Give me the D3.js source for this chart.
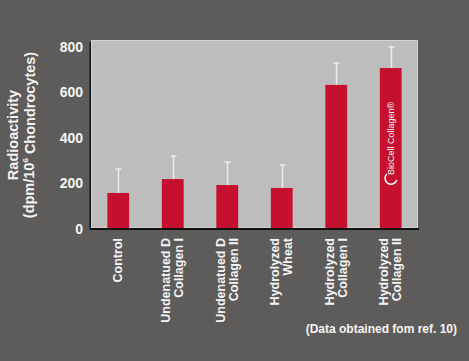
<!DOCTYPE html>
<html><head><meta charset="utf-8">
<script src="https://cdn.jsdelivr.net/npm/d3@7/dist/d3.min.js"></script>
<style>
html,body{margin:0;padding:0;background:#5e5c5b;}
svg{display:block;}
text{font-family:"Liberation Sans",Arial,sans-serif;font-weight:bold;fill:#f4f4f4;}
</style></head>
<body>
<script>
const categories = [["Control"],["Undenatued D","Collagen I"],["Undenatued D","Collagen II"],["Hydrolyzed","Wheat"],["Hydrolyzed","Collagen I"],["Hydrolyzed","Collagen II"]];
const values = [154, 215, 189, 176, 629, 703];
const errors = [105, 101, 101, 101, 96, 93];
const yTicks = [0, 200, 400, 600, 800];

const W = 469, H = 361;
const svg = d3.select("body").append("svg").attr("width", W).attr("height", H);
svg.append("rect").attr("width", W).attr("height", H).attr("fill", "#5e5c5b");

const x = d3.scaleBand().domain(d3.range(categories.length)).range([91, 418]).paddingInner(0.6).paddingOuter(0.3);
const y = d3.scaleLinear().domain([0, 800]).range([228, 46]);

// plot area with shadow lines
svg.append("line").attr("x1", 90.5).attr("x2", 90.5).attr("y1", 42).attr("y2", 229.5).attr("stroke", "#111").attr("stroke-width", 2);
svg.append("line").attr("x1", 90).attr("x2", 419).attr("y1", 229).attr("y2", 229).attr("stroke", "#111").attr("stroke-width", 2);
svg.append("rect").attr("x", 91.5).attr("y", 40.5).attr("width", 326).attr("height", 187).attr("fill", "#bdbdbd").attr("stroke", "#d2d2d2").attr("stroke-width", 1);

// error bars
const eb = svg.append("g");
values.forEach((v, i) => {
  const cx = Math.round(x(i) + x.bandwidth() / 2) + 0.5;
  eb.append("line").attr("x1", cx).attr("x2", cx).attr("y1", y(v)).attr("y2", y(v + errors[i])).attr("stroke", "#ececec").attr("stroke-width", 1.5);
  eb.append("line").attr("x1", cx - 3).attr("x2", cx + 3).attr("y1", y(v + errors[i])).attr("y2", y(v + errors[i])).attr("stroke", "#ececec").attr("stroke-width", 1.5);
});

// bars
svg.append("g").selectAll("rect").data(values).join("rect")
  .attr("x", (d, i) => x(i)).attr("width", x.bandwidth())
  .attr("y", d => y(d)).attr("height", d => y(0) - y(d))
  .attr("fill", "#c5112f");

// y ticks
const ya = d3.axisLeft(y).tickValues(yTicks).tickSize(0).tickPadding(0);
const yg = svg.append("g").attr("transform", "translate(83,0)").call(ya);
yg.select(".domain").remove();
yg.selectAll("text").attr("font-size", 14).attr("font-family", "Liberation Sans, Arial, sans-serif").attr("font-weight", "bold").attr("fill", "#f4f4f4").attr("dy", "0.36em");

// y title
const yt = svg.append("text").attr("transform", "translate(18,135) rotate(-90)").attr("text-anchor", "middle").attr("font-size", 14.5);
yt.append("tspan").attr("x", 0).attr("dy", 0).text("Radioactivity");
const t2 = yt.append("tspan").attr("x", 0).attr("dy", "1.1em").text("(dpm/10");
t2.append("tspan").attr("font-size", 8).attr("dy", "-0.7em").text("6");
yt.append("tspan").attr("dy", "0.45em").text(" Chondrocytes)");

// x labels
categories.forEach((lines, i) => {
  const cx = x(i) + x.bandwidth() / 2;
  const n = lines.length;
  const lh = 13;
  const t = svg.append("text").attr("text-anchor", "end").attr("font-size", 12.5)
    .attr("transform", `translate(${cx + 4 - (n - 1) * lh / 2},238) rotate(-90)`);
  lines.forEach((l, j) => t.append("tspan").attr("x", 0).attr("dy", j === 0 ? 0 : lh).text(l));
});

// logo in last bar
const li = categories.length - 1;
const lx = x(li) + x.bandwidth() / 2;
const lg = svg.append("g").attr("transform", `translate(${lx + 3},182) rotate(-90)`);
lg.append("text").attr("x", 7).attr("y", 0).attr("font-size", 9).attr("fill", "#ffffff")
  .style("font-weight", "normal").style("font-family", "Liberation Sans Narrow, Liberation Sans, Arial, sans-serif").text("BioCell Collagen®");
lg.append("path").attr("d", "M2,3 A6,6 0 1 1 8,-7").attr("fill", "none").attr("stroke", "#fff").attr("stroke-width", 1.5);

// footnote
svg.append("text").attr("x", 457).attr("y", 333).attr("text-anchor", "end").attr("font-size", 12).text("(Data obtained fom ref. 10)");
</script>
</body></html>
